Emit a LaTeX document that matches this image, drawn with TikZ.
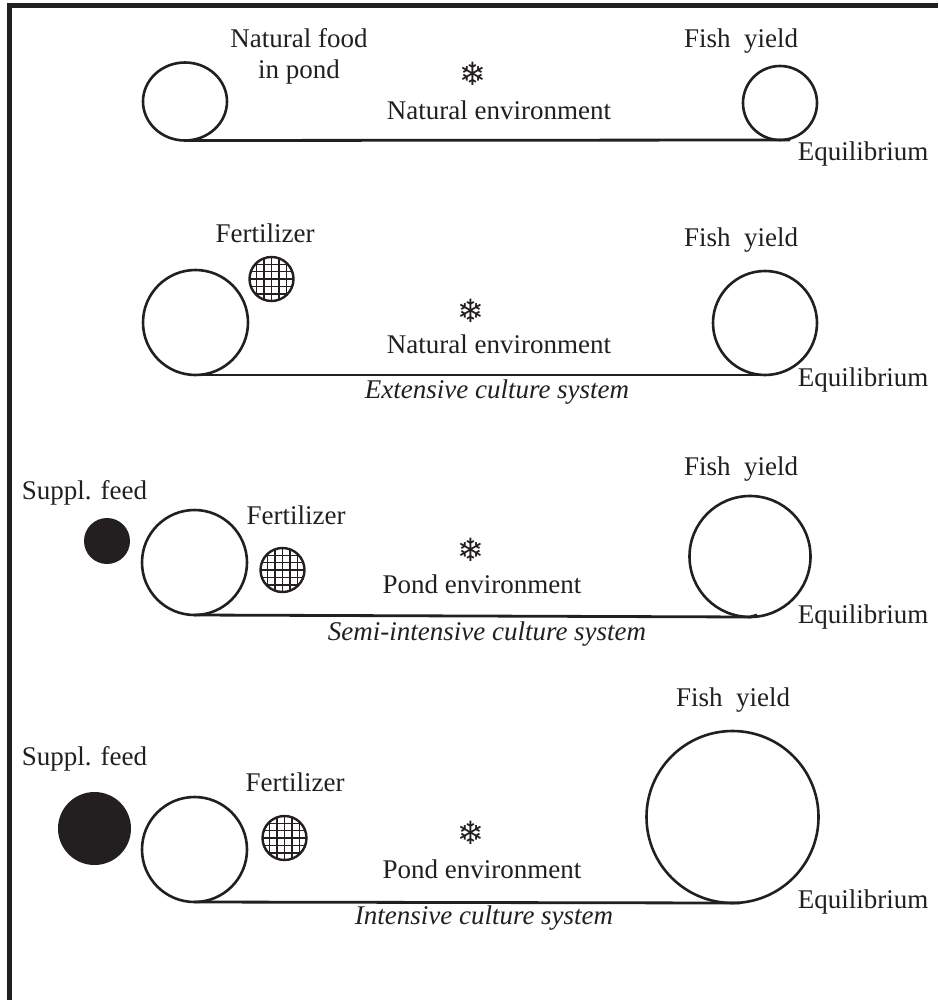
\documentclass[tikz,border=0pt]{standalone}
\usepackage{fontspec}
\setmainfont{Liberation Serif}
\newfontfamily\symfont{DejaVu Sans}
\usetikzlibrary{shapes.geometric}
\definecolor{ink}{HTML}{231F20}
\begin{document}
\begin{tikzpicture}[x=1pt,y=-1pt,
  lbl/.style={font=\fontsize{27}{32}\selectfont, text=ink, inner sep=0pt, text height=0.7em, text depth=0.2em},
  ilbl/.style={lbl, font=\fontsize{27}{32}\selectfont\itshape},
  snow/.style={font=\symfont\fontsize{32}{34}\selectfont, text=ink, inner sep=0pt},
  pondc/.style={draw=ink, line width=2.6pt, ellipse, inner sep=0pt, outer sep=0pt},
  base/.style={draw=ink, line width=2.8pt},
  feed/.style={circle, fill=ink, inner sep=0pt, outer sep=0pt},
  fert/.style={circle, draw=ink, line width=2.4pt, inner sep=0pt, outer sep=0pt, minimum size=44pt,
    path picture={
      \foreach \i in {-3,...,3}{
        \draw[ink, line width=1.4pt] ([xshift=\i*7.4pt,yshift=-30pt]path picture bounding box.center) -- ++(0,-60);
        \draw[ink, line width=1.4pt] ([yshift=\i*7.4pt,xshift=-30pt]path picture bounding box.center) -- ++(60,0);
      }}},
  frame/.style={draw=ink, line width=5pt}
]
\useasboundingbox (0,0) rectangle (938,1000);
\fill[white] (0,0) rectangle (938,1000);
% frame
\coordinate (ft0) at (7,5.5);
\coordinate (ft1) at (938,5.5);
\coordinate (fl0) at (9.5,3);
\coordinate (fl1) at (9.5,1000);
\path[frame] (ft0) -- (ft1);
\path[frame] (fl0) -- (fl1);

% ---------- panel 1
\node[pondc, minimum width=84pt, minimum height=78pt] (L1) at (185,101.5) {};
\node[pondc, minimum width=74pt, minimum height=74pt] (R1) at (780,103) {};
\coordinate (e1) at (790,140);
\path[base] (L1.south) -- (R1.south) -- (e1);
\node[lbl] (nf1) at (299,45) {Natural food};
\node[lbl] (nf2) at (299,76) {in pond};
\node[snow] (s1) at (473,74) {❄};
\node[lbl] (env1) at (499,117) {Natural environment};
\node[lbl] (fy1) at (741,45) {Fish\ \ yield};
\node[lbl] (eq1) at (863,158) {Equilibrium};

% ---------- panel 2
\node[pondc, minimum width=105pt, minimum height=105pt] (L2) at (195.5,322.5) {};
\node[pondc, minimum width=104pt, minimum height=104pt] (R2) at (765,323) {};
\coordinate (e2) at (772,375);
\path[base] (L2.south) -- (R2.south) -- (e2);
\node[lbl] (fl2) at (265,240) {Fertilizer};
\node[fert] (F2) at (271.5,279) {};
\node[snow] (s2) at (471,311) {❄};
\node[lbl] (env2) at (499,351) {Natural environment};
\node[ilbl] (cs2) at (497,396) {Extensive culture system};
\node[lbl] (fy2) at (741,244) {Fish\ \ yield};
\node[lbl] (eq2) at (863,384) {Equilibrium};

% ---------- panel 3
\node[lbl] (sf3) at (84.5,497) {Suppl. feed};
\node[feed, minimum size=46pt] (D3) at (107,541) {};
\node[pondc, minimum width=105pt, minimum height=105pt] (L3) at (194.5,562.5) {};
\node[pondc, minimum width=121pt, minimum height=121pt] (R3) at (750,556.5) {};
\coordinate (e3) at (757,615);
\path[base] (L3.south) -- (R3.south) -- (e3);
\node[lbl] (fl3) at (296,522) {Fertilizer};
\node[fert] (F3) at (282.5,570) {};
\node[snow] (s3) at (471,550) {❄};
\node[lbl] (env3) at (482,591) {Pond environment};
\node[ilbl] (cs3) at (487,638) {Semi-intensive culture system};
\node[lbl] (fy3) at (741,473) {Fish\ \ yield};
\node[lbl] (eq3) at (863,621) {Equilibrium};

% ---------- panel 4
\node[lbl] (sf4) at (84.5,763) {Suppl. feed};
\node[feed, minimum size=73pt] (D4) at (94.5,828.5) {};
\node[pondc, minimum width=105pt, minimum height=105pt] (L4) at (194.5,849.5) {};
\node[pondc, minimum width=172pt, minimum height=172pt] (R4) at (732.5,817) {};
\coordinate (e4) at (740,903);
\path[base] (L4.south) -- (R4.south) -- (e4);
\node[lbl] (fl4) at (295,789) {Fertilizer};
\node[fert] (F4) at (284.5,838) {};
\node[snow] (s4) at (471,833) {❄};
\node[lbl] (env4) at (482,876) {Pond environment};
\node[ilbl] (cs4) at (484,922) {Intensive culture system};
\node[lbl] (fy4) at (733,704) {Fish\ \ yield};
\node[lbl] (eq4) at (863,906) {Equilibrium};
\end{tikzpicture}
\end{document}
